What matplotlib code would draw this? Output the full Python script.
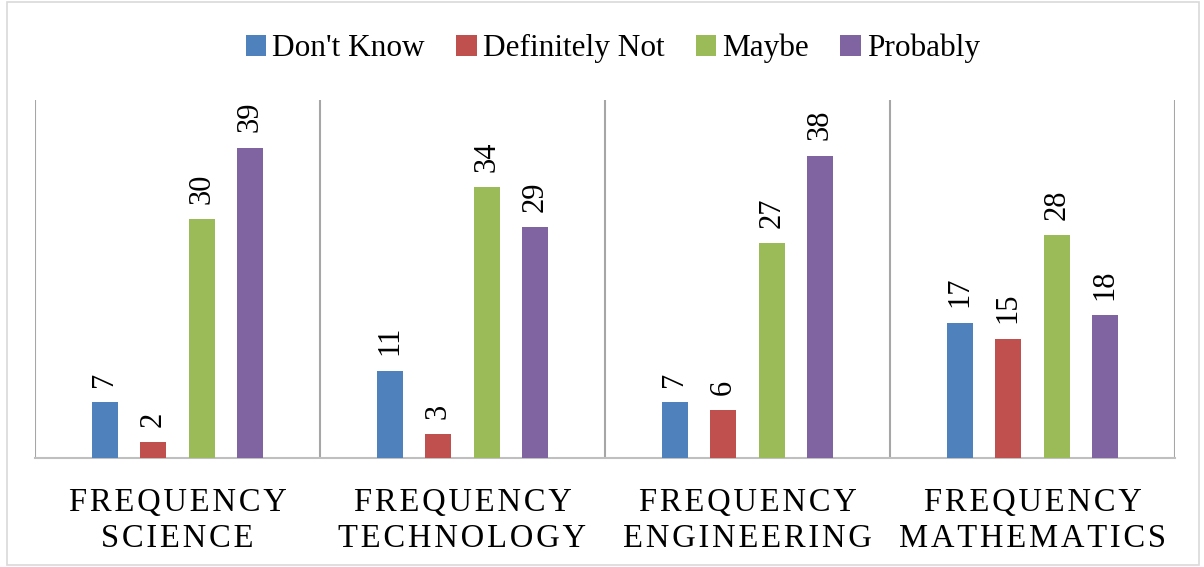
import matplotlib.pyplot as plt
import numpy as np

categories = ["FREQUENCY\nSCIENCE", "FREQUENCY\nTECHNOLOGY", "FREQUENCY\nENGINEERING", "FREQUENCY\nMATHEMATICS"]
series = ["Don't Know", "Definitely Not", "Maybe", "Probably"]
dont_know = [7, 11, 7, 17]
definitely_not = [2, 3, 6, 15]
maybe = [30, 34, 27, 28]
probably = [39, 29, 38, 18]
colors = ["#4F81BD", "#C0504D", "#9BBB59", "#8064A2"]

plt.rcParams['font.family'] = ['Liberation Serif', 'DejaVu Serif']

fig = plt.figure(figsize=(12.04, 5.67), dpi=100)
ax = fig.add_axes([0.029, 0.192, 0.947, 0.632])

x = np.arange(len(categories))
width = 0.091
step = 0.17
values = [dont_know, definitely_not, maybe, probably]
for i, (name, vals) in enumerate(zip(series, values)):
    pos = x + (i - 1.5) * step
    ax.bar(pos, vals, width, color=colors[i], label=name, zorder=3)
    for p, v in zip(pos, vals):
        ax.annotate(str(v), (p, v), xytext=(0, 11), textcoords="offset points",
                    rotation=90, ha="center", va="bottom", fontsize=22)

# category separators
for b in np.arange(-0.5, len(categories), 1.0):
    ax.axvline(b, color="#A6A6A6", lw=1.5, zorder=1)

ax.set_xlim(-0.5, len(categories) - 0.5)
ax.set_ylim(0, 45)
for s in ["top", "right", "left"]:
    ax.spines[s].set_visible(False)
ax.spines["bottom"].set_color("#BFBFBF")
ax.spines["bottom"].set_linewidth(1.5)
ax.set_yticks([])
ax.set_xticks(x)
spaced = ["\n".join("\u200a".join(w) for w in c.split("\n")) for c in categories]
ax.set_xticklabels(spaced, fontsize=23.5, linespacing=1.25)
ax.tick_params(axis="x", length=0, pad=21)

fig.legend(loc="upper center", bbox_to_anchor=(0.509, 0.99), ncol=4, frameon=False,
           fontsize=22.5, handlelength=0.65, handleheight=0.65, handletextpad=0.2,
           columnspacing=1.0)

# light chart frame
fig.patches.append(plt.Rectangle((0.006, 0.004), 0.99, 0.992, transform=fig.transFigure,
                                 fill=False, edgecolor="#D9D9D9", lw=1.2))

fig.savefig("out.png", dpi=100)
